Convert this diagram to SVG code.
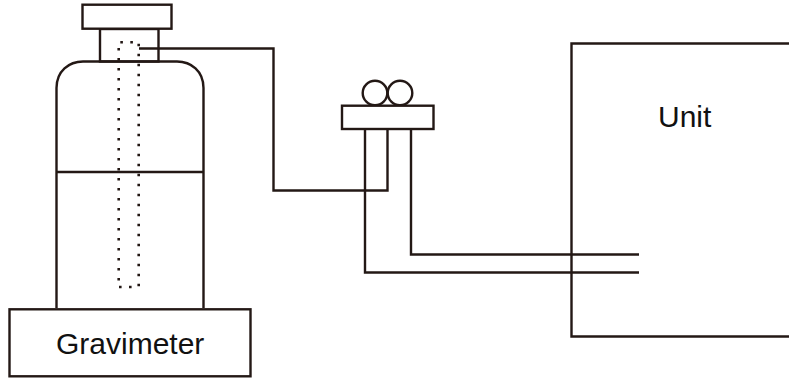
<svg xmlns="http://www.w3.org/2000/svg" width="789" height="378" viewBox="0 0 789 378">
<style>
.s{fill:none;stroke:#231815;stroke-width:2.4}
.w{fill:#fff;stroke:#231815;stroke-width:2.4}
.d{fill:none;stroke:#231815;stroke-width:2.6;stroke-dasharray:2.6 7.4}
.t{font-family:"Liberation Sans",Arial,sans-serif;font-size:30px;fill:#111}
</style>
<rect width="789" height="378" fill="#fff"/>
<g id="connectors">
<path class="s" d="M139 48.500H273.500V190.500H387.500V129"/>
<path class="s" d="M365 129V272.500H639"/>
<path class="s" d="M411 129V254.500H639"/>
</g>
<g id="cylinder">
<path class="s" d="M56.500 308V88C56.500 71 69 61.500 83 61.500H177C191 61.500 203.500 71 203.500 88V308"/>
<path class="s" d="M56.500 172H203.500"/>
<rect class="s" x="100" y="29" width="58.500" height="32.500"/>
<rect class="w" x="82.500" y="4.700" width="89" height="24"/>
<path class="d" d="M138.700 43.700V287"/>
<path class="d" d="M118.700 48V281"/>
<path class="d" d="M120.300 42.300H136M119 287H136"/>
</g>
<g id="gauge">
<circle class="s" cx="375" cy="93" r="12.300"/>
<circle class="s" cx="400" cy="93" r="12.300"/>
<rect class="w" x="342" y="105.700" width="91.500" height="23.300"/>
</g>
<g id="unit">
<path class="s" d="M789 43.500H571.500V336.500H789"/>
<text class="t" x="658" y="127">Unit</text>
</g>
<g id="gravimeter">
<rect class="s" x="9.500" y="309.300" width="241" height="67"/>
<text class="t" x="56" y="354">Gravimeter</text>
</g>
</svg>
